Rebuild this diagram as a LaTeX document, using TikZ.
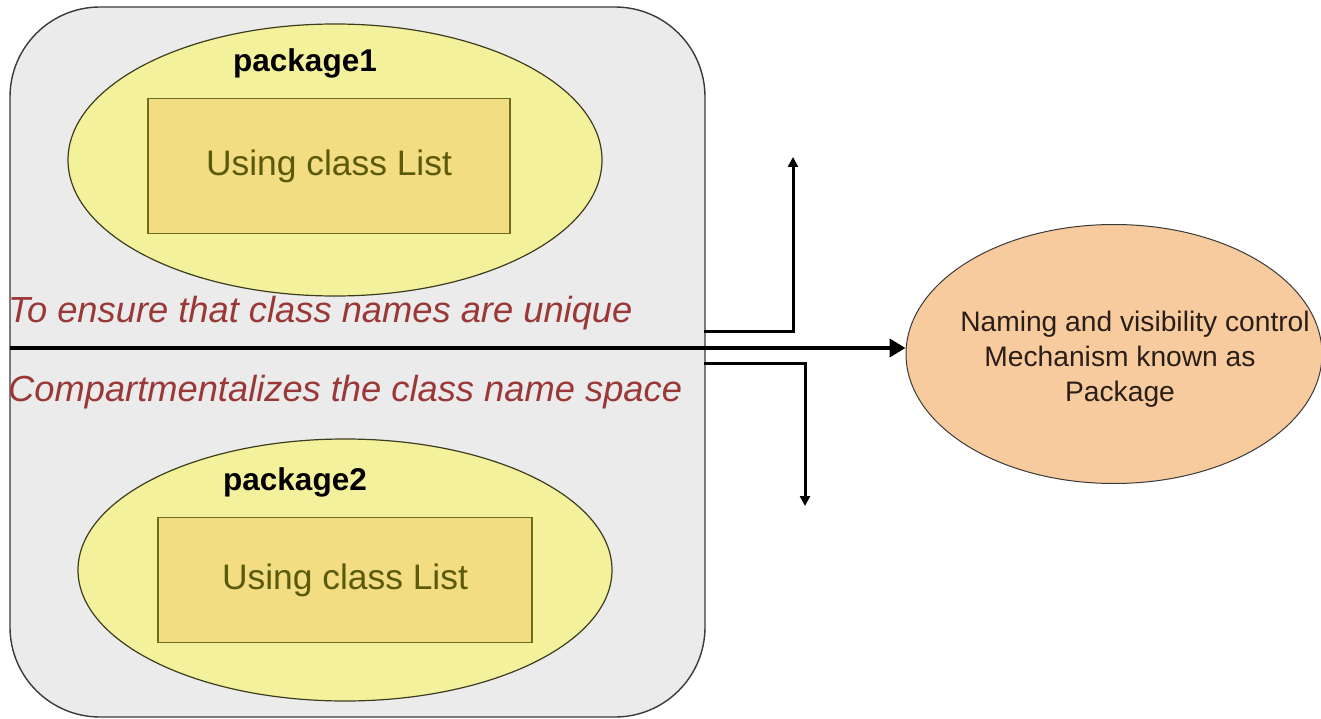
\documentclass[tikz,border=0pt]{standalone}
\usepackage{fontspec}
\setmainfont{Liberation Sans}
\usetikzlibrary{shapes.geometric,arrows.meta}
\definecolor{boardfill}{HTML}{EBEBEB}
\definecolor{boardline}{HTML}{3A3A3A}
\definecolor{pkgfill}{HTML}{F4F19C}
\definecolor{pkgline}{HTML}{3C3C1E}
\definecolor{boxfill}{HTML}{F2DD82}
\definecolor{boxline}{HTML}{6E6A1E}
\definecolor{boxtext}{HTML}{5A5A0A}
\definecolor{notetext}{HTML}{9A3838}
\definecolor{infofill}{HTML}{F8CB9E}
\definecolor{infoline}{HTML}{3A3A3A}
\definecolor{infotext}{HTML}{2A1E18}
\tikzset{
  board/.style={draw=boardline, line width=1.4pt, fill=boardfill, rounded corners=90pt,
    minimum width=695pt, minimum height=710pt, inner sep=0pt},
  pkg/.style={ellipse, draw=pkgline, line width=1.2pt, fill=pkgfill, inner sep=0pt},
  classbox/.style={draw=boxline, line width=1.2pt, fill=boxfill, inner sep=0pt,
    text=boxtext, font=\fontsize{35.4}{40}\selectfont},
  pkgname/.style={font=\fontsize{31.5}{36}\selectfont\bfseries, text=black},
  note/.style={font=\fontsize{36.3}{40}\selectfont\itshape, text=notetext, anchor=west, inner sep=0pt},
  info/.style={ellipse, draw=infoline, line width=1pt, fill=infofill, inner sep=0pt,
    minimum width=416pt, minimum height=259pt},
  infolabel/.style={font=\fontsize{28.2}{35}\selectfont, text=infotext, align=center},
  mainflow/.style={line width=4.8pt, -{Triangle[length=16pt,width=18pt]}},
  branch/.style={line width=3pt, -{Triangle[length=10pt,width=10pt]}},
}
\begin{document}
\begin{tikzpicture}[x=1pt,y=-1pt]
\useasboundingbox (0,0) rectangle (1321,719);
\fill[white] (0,0) rectangle (1321,719);

% outer container
\node[board] (board) at (357.5,362) {};

% first package
\node[pkg, minimum width=534pt, minimum height=272pt] (pkgA) at (335,160) {};
\node[pkgname] (pkgAname) at (305,63) {package1};
\node[classbox, minimum width=362pt, minimum height=135pt] (boxA) at (329,166) {Using class List};

% second package
\node[pkg, minimum width=534pt, minimum height=262pt] (pkgB) at (345,570) {};
\node[pkgname] (pkgBname) at (295,482) {package2};
\node[classbox, minimum width=374pt, minimum height=125pt] (boxB) at (345,580) {Using class List};

% notes
\node[note] (noteA) at (8,313) {To ensure that class names are unique};
\node[note] (noteB) at (8,392) {Compartmentalizes the class name space};

% result
\node[info] (info) at (1114,354) {};
\node[infolabel] (infotxt) at (1120,359) {\hspace*{30pt}Naming and visibility control\\Mechanism known as\\Package};

% connectors
\coordinate (start) at (10,348);
\draw[mainflow] (start) -- (start -| info.west);

\coordinate (upfrom) at (704,331);
\coordinate (upto) at (793,157);
\draw[branch] (upfrom) -| (upto);

\coordinate (dnfrom) at (704,363);
\coordinate (dnto) at (805,506);
\draw[branch] (dnfrom) -| (dnto);
\end{tikzpicture}
\end{document}
